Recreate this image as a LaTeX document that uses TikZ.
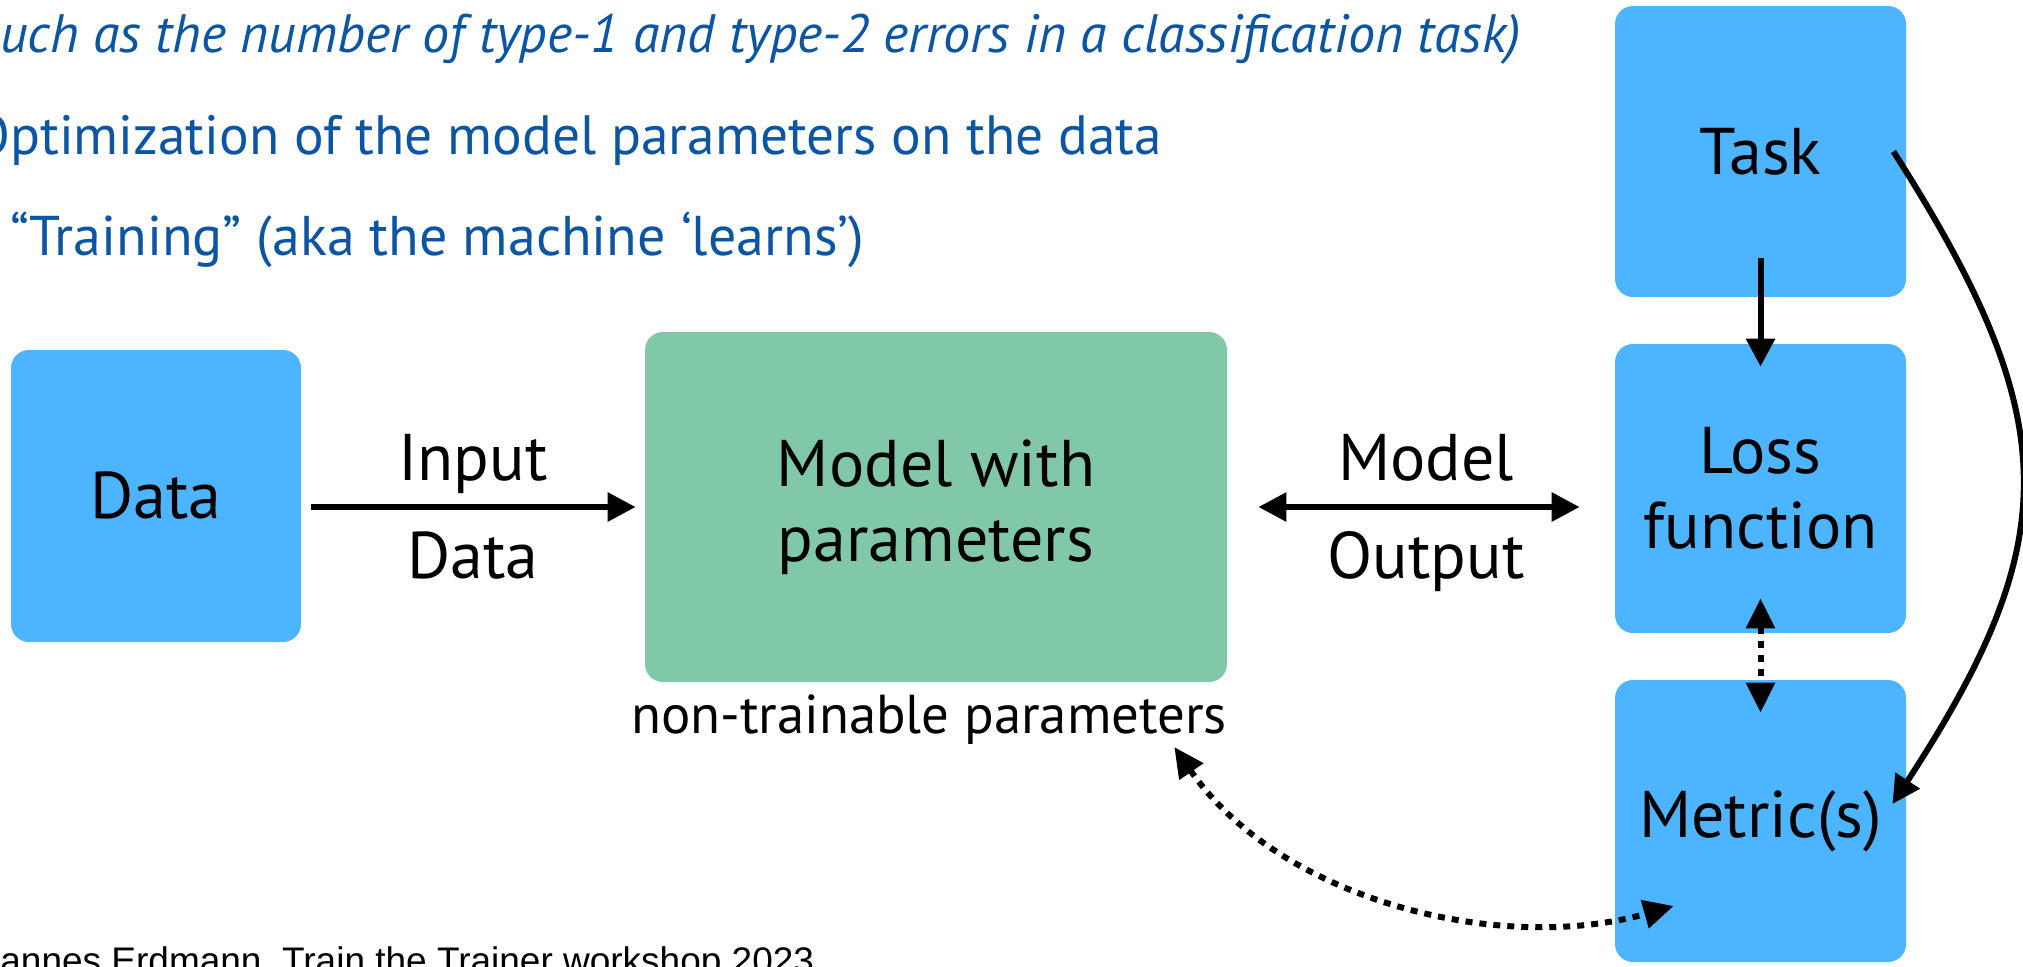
\documentclass[tikz,border=0pt]{standalone}
\usepackage{fontspec}
\setmainfont{PT Sans}
\newfontfamily\footfont{Liberation Sans}
\usetikzlibrary{arrows.meta,calc}
\definecolor{boxblue}{RGB}{77,180,255}
\definecolor{boxgreen}{RGB}{128,200,168}
\definecolor{textblue}{RGB}{11,85,163}
\begin{document}
\begin{tikzpicture}[x=0.5pt,y=-0.5pt,
  box/.style={rounded corners=9pt, inner sep=0pt, align=center, font=\fontsize{33}{37.5}\selectfont},
  bluebox/.style={box, fill=boxblue},
  greenbox/.style={box, fill=boxgreen},
  lbl/.style={inner sep=0pt, anchor=base, font=\fontsize{33}{37.5}\selectfont},
  bullet/.style={inner sep=0pt, anchor=base west, text=textblue, font=\fontsize{28}{32}\selectfont},
  conn/.style={line width=3pt, -{Triangle[length=14pt,width=14pt]}},
  biconn/.style={line width=3pt, {Triangle[length=14pt,width=14pt]}-{Triangle[length=14pt,width=14pt]}},
  dotconn/.style={line width=3pt, dash pattern=on 3.5pt off 3.5pt, {Triangle[length=15pt,width=14pt]}-{Triangle[length=15pt,width=14pt]}},
]
\path[use as bounding box] (0,0) rectangle (2023,966);

% top text
\node[bullet, font=\fontsize{27}{32}\selectfont\itshape] (l1) at (0,52) {uch as the number of type-1 and type-2 errors in a classification task)};
\node[bullet, font=\fontsize{27.7}{32}\selectfont] (l2) at (-28,154) {Optimization of the model parameters on the data};
\node[bullet] (l3) at (10,255) {“Training” (aka the machine ‘learns’)};

% boxes
\node[bluebox, minimum width=145pt, minimum height=146pt] (data) at (156,496) {Data};
\node[greenbox, minimum width=291pt, minimum height=175pt] (model) at (936,507) {Model with\\parameters};
\node[bluebox, minimum width=145.5pt, minimum height=145.5pt] (task) at (1760.5,151.5) {Task};
\node[bluebox, minimum width=145.5pt, minimum height=144.5pt] (loss) at (1760.5,488.5) {Loss\\function};
\node[bluebox, minimum width=145.5pt, minimum height=141pt] (metric) at (1760.5,821) {Metric(s)};

% labels
\node[lbl] (inlbl) at (473,480) {Input};
\node[lbl] (indata) at (473,578) {Data};
\node[lbl] (outlbl) at (1426,480) {Model};
\node[lbl] (outout) at (1426,578) {Output};
\node[inner sep=0pt, anchor=base, font=\fontsize{27.4}{30}\selectfont] (nontrain) at (929,733) {non-trainable parameters};

% footer
\node[inner sep=0pt, anchor=base west, font=\footfont\fontsize{18.5}{22}\selectfont] (foot) at (0,973) {annes Erdmann, Train the Trainer workshop 2023};

% connectors
\draw[conn, shorten <=5pt, shorten >=4.5pt] (data.east |- model) -- (model.west);
\draw[biconn, shorten <=15.5pt, shorten >=17.5pt] (model.east) -- (loss.west |- model.east);
\draw[conn] ([yshift=19.5pt]task.south) -- ([yshift=-11.5pt]loss.north);
\draw[dotconn] ([yshift=17.5pt]loss.south) -- ([yshift=-16.5pt]metric.north);
\draw[conn] ([xshift=-6.5pt]task.east) .. controls (2065,420) and (2065,540) .. ([xshift=-7pt,yshift=8.5pt]metric.east);
\draw[dotconn] ($(nontrain.base east)+(-53,14)$) .. controls (1280,900) and (1500,955) .. ($(metric.west)+(59,85)$);
\end{tikzpicture}
\end{document}
